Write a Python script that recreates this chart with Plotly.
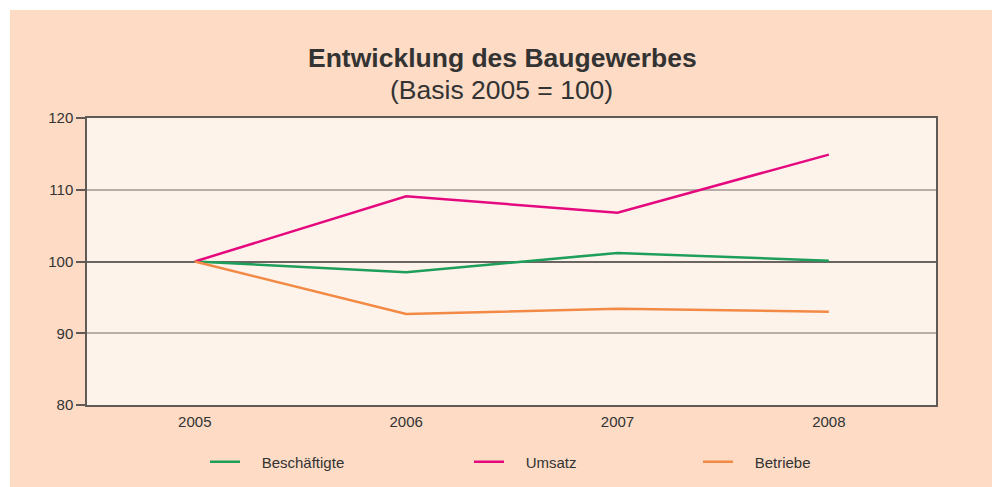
import plotly.graph_objects as go

years = ["2005", "2006", "2007", "2008"]
beschaeftigte = [100.0, 98.5, 101.2, 100.1]
umsatz = [100.0, 109.1, 106.8, 114.9]
betriebe = [100.0, 92.7, 93.4, 93.0]
y_ticks = [80, 90, 100, 110, 120]
y_range = [80, 120]
basis = 100

W, H = 992, 487
L, R, T, B = 87, 56, 118, 82
pw, ph = W - L - R, H - T - B

font = "Liberation Sans, Arial, sans-serif"
txt = "#333333"
pad = "\u00a0\u00a0\u00a0\u00a0"

series = [
    ("Beschäftigte", beschaeftigte, "#1E9E5B", "legend", 210, "y"),
    ("Umsatz", umsatz, "#E5097F", "legend2", 474, "y"),
    ("Betriebe", betriebe, "#F28A45", "legend3", 703, "y2"),
]

fig = go.Figure()
legends = {}
for name, vals, col, lg, lx, ya in series:
    fig.add_trace(go.Scatter(x=years, y=vals, name=pad + name, mode="lines",
                             legend=lg, yaxis=ya, line=dict(color=col, width=2.5)))
    legends[lg] = dict(orientation="h", xref="container", yref="container",
                       x=(lx - 5) / W, xanchor="left",
                       y=1 - 462 / H, yanchor="middle",
                       font=dict(size=15, color=txt, family=font),
                       bgcolor="rgba(0,0,0,0)", borderwidth=0)

shapes = [
    dict(type="rect", xref="paper", yref="paper",
         x0=-L / pw, x1=(W - L) / pw, y0=1 + (T - 10) / ph, y1=1 + T / ph,
         fillcolor="white", line=dict(width=0), layer="above"),
    dict(type="rect", xref="paper", yref="paper",
         x0=-L / pw, x1=-(L - 10) / pw, y0=-B / ph, y1=1 + T / ph,
         fillcolor="white", line=dict(width=0), layer="above"),
]

fig.update_layout(
    width=W, height=H,
    margin=dict(l=L, r=R, t=T, b=B, pad=0, autoexpand=False),
    paper_bgcolor="#FDDBC5",
    plot_bgcolor="#FEF3EB",
    font=dict(family=font, size=15, color=txt),
    showlegend=True,
    annotations=[
        dict(text="<b>Entwicklung des Baugewerbes</b>", xref="paper", yref="paper",
             x=(502 - L) / pw, y=1 + (T - 58) / ph, xanchor="center", yanchor="middle",
             showarrow=False, font=dict(size=26.5, color=txt, family=font)),
        dict(text="(Basis 2005 = 100)", xref="paper", yref="paper",
             x=(501 - L) / pw, y=1 + (T - 90) / ph, xanchor="center", yanchor="middle",
             showarrow=False, font=dict(size=26.5, color=txt, family=font)),
    ],
    shapes=shapes,
    yaxis2=dict(overlaying="y", side="left", range=y_range, tickvals=[basis],
                showticklabels=False, ticks="", showline=False, zeroline=False,
                showgrid=True, gridcolor="#6A6561", gridwidth=1.8),
    **legends,
)

fig.update_xaxes(type="category", range=[-0.51, 3.507], showgrid=False,
                 showline=True, linecolor="#5F5A56", linewidth=1.5, mirror=True,
                 ticks="outside", ticklen=2, tickcolor="rgba(0,0,0,0)",
                 tickfont=dict(size=15, color=txt), zeroline=False)
fig.update_layout(yaxis=dict(range=y_range, tickvals=y_ticks, showgrid=True,
                 gridcolor="#B9AEA7", gridwidth=1.5,
                 showline=True, linecolor="#5F5A56", linewidth=1.5, mirror=True,
                 ticks="outside", ticklen=9, tickcolor="#5F5A56", tickwidth=1.5,
                 tickfont=dict(size=15, color=txt), zeroline=False))

fig.write_html("out.html", config={"displayModeBar": False},
               post_script="document.body.style.margin='0';")
